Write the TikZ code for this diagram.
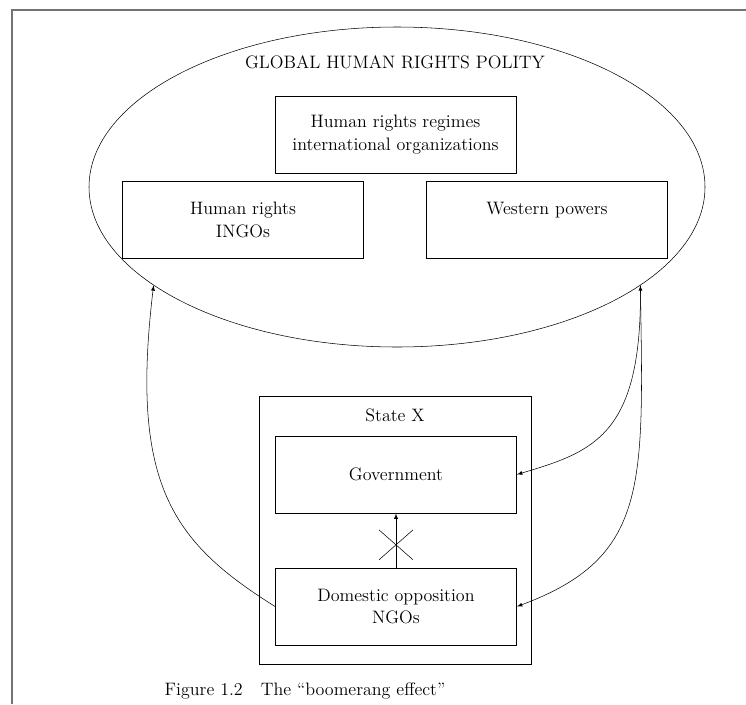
\documentclass[tikz,border=0pt]{standalone}
\usetikzlibrary{shapes.geometric, shapes.misc, positioning}

\begin{document}
\begin{tikzpicture}[x=0.75pt, y=-0.75pt, >=latex, thin,
    every node/.style={font=\fontsize{13.5}{17}\selectfont},
    actor/.style={draw, minimum width=181pt, minimum height=58pt, align=center, inner sep=2pt},
    blocked/.style={cross out, draw, minimum width=25pt, minimum height=22pt, inner sep=0pt}]
    \useasboundingbox (0,0) rectangle (746,704);
    \draw[line width=2pt, black!55] (12,704) -- (12,10) -- (746,10);

    \node[draw, ellipse, minimum width=462pt, minimum height=240pt, inner sep=0pt] (polity) at (397,187) {};
    \node (title) at (395,62) {GLOBAL HUMAN RIGHTS POLITY};
    \node[actor] (regimes) at (395.5,134.5) {Human rights regimes\\international organizations};
    \node[actor] (ingos) at (243,220) {Human rights\\INGOs};
    \node[actor] (western) at (547,220) {Western powers\\\mbox{}};

    \node[draw, minimum width=204pt, minimum height=201pt] (state) at (395,530) {};
    \node[below=6pt of state.north] (statex) {State X};
    \node[actor] (gov) at (396,474.5) {Government};
    \node[actor] (dom) at (396,606.5) {Domestic opposition\\NGOs};

    \path[->] (dom) edge node[blocked, pos=0.42] (block) {} (gov);

    \draw[->] (dom.west) .. controls +(-102,-64) and +(-24,200) .. (polity.202);
    \draw[->] (polity.338) .. controls +(2,150) and +(77,-23) .. (gov.east);
    \draw[<->] (polity.338) .. controls +(3,200) and +(132,-49) .. (dom.east);

    \node[anchor=base west] (caption) at (160,695) {Figure 1.2\quad The \textquotedblleft boomerang effect\textquotedblright};
\end{tikzpicture}
\end{document}
